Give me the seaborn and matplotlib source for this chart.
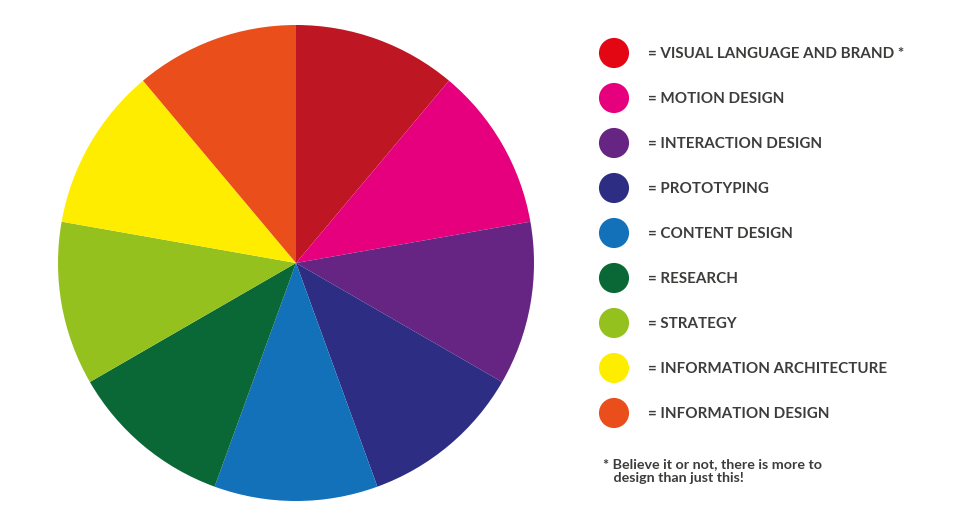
import matplotlib
matplotlib.use("Agg")
import matplotlib.pyplot as plt
import seaborn as sns
import numpy as np
import pandas as pd

# ---- data ----
categories = ["VISUAL LANGUAGE AND BRAND *", "MOTION DESIGN", "INTERACTION DESIGN",
              "PROTOTYPING", "CONTENT DESIGN", "RESEARCH", "STRATEGY",
              "INFORMATION ARCHITECTURE", "INFORMATION DESIGN"]
shares = [1, 1, 1, 1, 1, 1, 1, 1, 1]
slice_colors = ["#BE1622", "#E6007E", "#662483", "#2D2E83", "#1271B8",
                "#0A6736", "#95C11F", "#FFED00", "#E94E1B"]
legend_colors = ["#E30613", "#E6007E", "#662483", "#2D2E83", "#1271B8",
                 "#0A6736", "#95C11F", "#FFED00", "#E94E1B"]
footnote = "* Believe it or not, there is more to\n   design than just this!"

sns.set_theme(style="white")
plt.rcParams['font.family'] = ['Lato', 'DejaVu Sans']

W, H = 960, 526
fig = plt.figure(figsize=(W / 100, H / 100), dpi=100)
ax = fig.add_axes([0, 0, 1, 1])

# pie
ax.pie(shares, colors=slice_colors, startangle=90, counterclock=False,
       center=(296, H - 263), radius=238, wedgeprops=dict(linewidth=0))
ax.set_xlim(0, W)
ax.set_ylim(0, H)
ax.set_aspect("equal")
ax.axis("off")

# legend
df = pd.DataFrame({"cat": categories, "x": 614.0,
                   "y": [H - (53 + 45 * i) for i in range(len(categories))]})
sns.scatterplot(data=df, x="x", y="y", hue="cat", palette=legend_colors,
                s=470, linewidth=0, legend=False, ax=ax)
for _, r in df.iterrows():
    ax.text(648, r["y"] - 1, "= " + r["cat"], fontsize=10.9, fontweight="bold",
            color="#3C3C3B", va="center", ha="left")
ax.set_xlabel("")
ax.set_ylabel("")
ax.set_xlim(0, W)
ax.set_ylim(0, H)
ax.axis("off")

ax.text(603, H - 471, footnote, fontsize=10.3, fontweight="bold", color="#3C3C3B",
        va="center", ha="left", linespacing=1.15)

fig.savefig("out.png", dpi=100)
